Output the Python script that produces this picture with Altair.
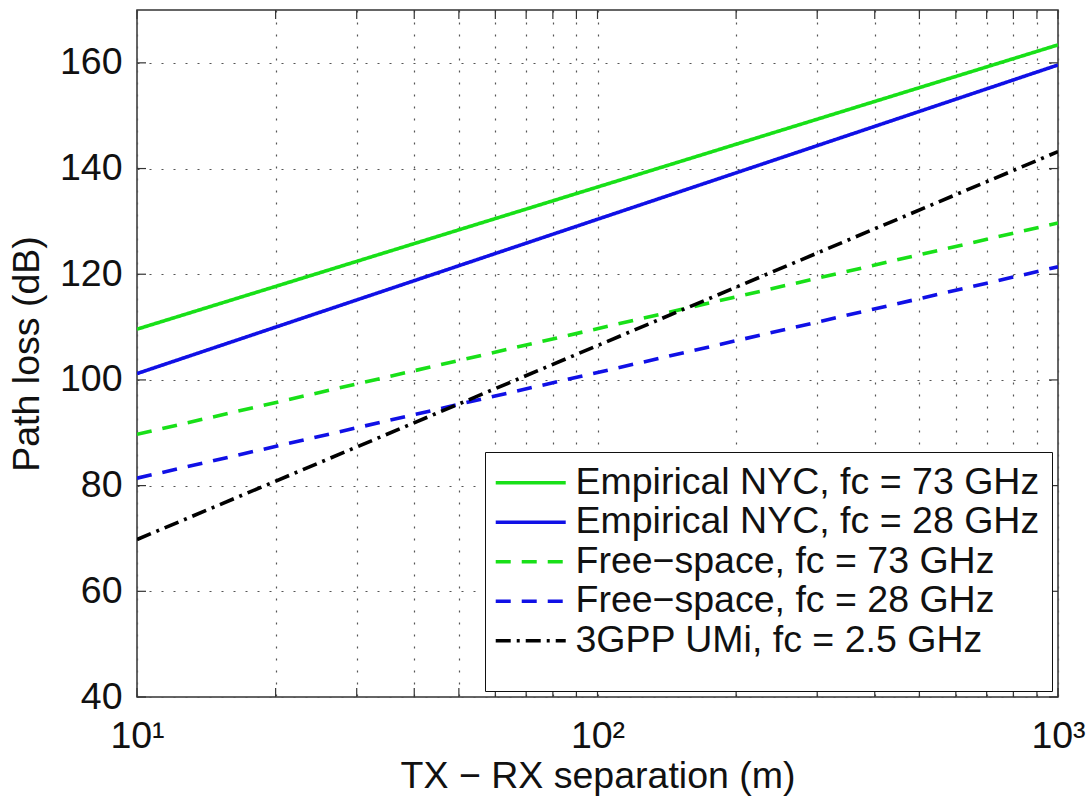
import altair as alt
import pandas as pd

# Path loss at the two ends of the distance range (log-distance models are straight on a log axis)
distances = [10, 1000]
series_names = [
    "Empirical NYC, fc = 73 GHz",
    "Empirical NYC, fc = 28 GHz",
    "Free\u2212space, fc = 73 GHz",
    "Free\u2212space, fc = 28 GHz",
    "3GPP UMi, fc = 2.5 GHz",
]
empirical_73 = [109.6, 163.4]
empirical_28 = [101.2, 159.6]
free_space_73 = [89.7, 129.7]
free_space_28 = [81.4, 121.4]
umi_3gpp = [69.8, 143.2]

series_colors = ["#18e018", "#1010e6", "#18e018", "#1010e6", "#000000"]
series_dashes = [[1, 0], [1, 0], [15, 11], [15, 11], [15, 6, 3, 6]]

x_grid = [10, 20, 30, 40, 50, 60, 70, 80, 90, 100, 200, 300, 400, 500, 600, 700, 800, 900, 1000]
y_grid = [40, 60, 80, 100, 120, 140, 160]

rows = []
for name, vals in zip(series_names, [empirical_73, empirical_28, free_space_73, free_space_28, umi_3gpp]):
    for d, pl in zip(distances, vals):
        rows.append({"series": name, "d": d, "pl": pl})
df = pd.DataFrame(rows)

W, H = 921, 687
FONT = "Liberation Sans"
FS = 37.5
X_TITLE = "TX \u2212 RX separation (m)"
Y_TITLE = "Path loss (dB)"

x_scale = alt.Scale(type="log", domain=[10, 1000], nice=False)
y_scale = alt.Scale(domain=[40, 170], nice=False, zero=False)

x_axis = alt.Axis(
    values=x_grid,
    grid=True,
    ticks=False,
    domain=False,
    labelFlush=False,
    labelOverlap=False,
    labelExpr="datum.value == 10 ? '10\u00b9' : datum.value == 100 ? '10\u00b2' : datum.value == 1000 ? '10\u00b3' : ''",
    labelPadding=20,
    titlePadding=3,
)
y_axis = alt.Axis(
    values=y_grid,
    grid=True,
    ticks=False,
    domain=False,
    labelPadding=15,
    titlePadding=13,
)

legend = alt.Legend(
    orient="bottom-right",
    offset=6,
    symbolType="M-1.43,0H3.57",
    symbolSize=784,
    symbolStrokeWidth=3.6,
    labelFontSize=FS,
    labelFont=FONT,
    labelColor="#111111",
    labelLimit=1000,
    labelOffset=41,
    padding=12,
    rowPadding=0.5,
    titleOrient="bottom",
    titleFontSize=14,
    titlePadding=6,
    strokeColor="#111111",
    fillColor="white",
)

lines = alt.Chart(df).mark_line(strokeWidth=3.6, clip=True).encode(
    x=alt.X("d:Q", scale=x_scale, title=X_TITLE, axis=x_axis),
    y=alt.Y("pl:Q", scale=y_scale, title=Y_TITLE, axis=y_axis),
    color=alt.Color(
        "series:N",
        title=" ",
        sort=series_names,
        scale=alt.Scale(domain=series_names, range=series_colors),
        legend=legend,
    ),
    strokeDash=alt.StrokeDash(
        "series:N",
        title=" ",
        sort=series_names,
        scale=alt.Scale(domain=series_names, range=series_dashes),
    ),
)

# Inward tick marks on all four sides of the frame
xt = pd.DataFrame({"d": x_grid})
yt = pd.DataFrame({"pl": y_grid})
tick_len = 9
tick_color = "#333333"

x_ticks_bottom = alt.Chart(xt).mark_rule(color=tick_color, strokeWidth=1.2).encode(
    x=alt.X("d:Q", scale=x_scale, title=X_TITLE, axis=x_axis),
    y=alt.value(H),
    y2=alt.value(H - tick_len),
)
x_ticks_top = alt.Chart(xt).mark_rule(color=tick_color, strokeWidth=1.2).encode(
    x=alt.X("d:Q", scale=x_scale, title=X_TITLE, axis=x_axis),
    y=alt.value(0),
    y2=alt.value(tick_len),
)
y_ticks_left = alt.Chart(yt).mark_rule(color=tick_color, strokeWidth=1.2).encode(
    y=alt.Y("pl:Q", scale=y_scale, title=Y_TITLE, axis=y_axis),
    x=alt.value(0),
    x2=alt.value(tick_len),
)
y_ticks_right = alt.Chart(yt).mark_rule(color=tick_color, strokeWidth=1.2).encode(
    y=alt.Y("pl:Q", scale=y_scale, title=Y_TITLE, axis=y_axis),
    x=alt.value(W),
    x2=alt.value(W - tick_len),
)

chart = (
    alt.layer(lines, x_ticks_bottom, x_ticks_top, y_ticks_left, y_ticks_right)
    .properties(
        width=W,
        height=H,
        autosize=alt.AutoSizeParams(type="none"),
        padding={"left": 137, "top": 10, "right": 33, "bottom": 99},
        background="white",
    )
    .configure_view(stroke="#333333", strokeWidth=1.5)
    .configure_axis(
        gridColor="#555555",
        gridDash=[2, 10],
        gridWidth=1.2,
        labelFont=FONT,
        labelFontSize=FS,
        labelColor="#111111",
        titleFont=FONT,
        titleFontSize=FS,
        titleFontWeight="normal",
        titleColor="#111111",
    )
)

chart.save("out.html", embed_options={"renderer": "svg", "actions": False})
